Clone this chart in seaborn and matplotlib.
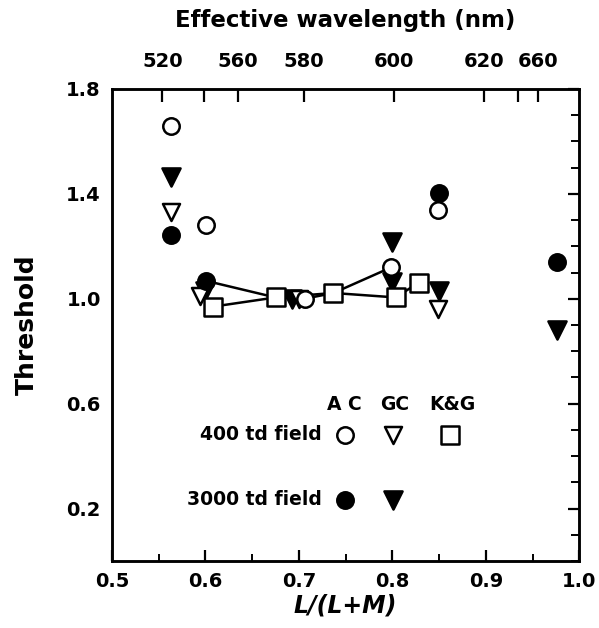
import matplotlib
matplotlib.use("Agg")
import matplotlib.pyplot as plt
import seaborn as sns
import pandas as pd
import numpy as np

# ---- data ----
ac400_x = [0.563, 0.601, 0.706, 0.799, 0.849]
ac400_y = [1.66, 1.28, 1.00, 1.12, 1.34]
ac3000_x = [0.563, 0.601, 0.850, 0.976]
ac3000_y = [1.245, 1.068, 1.405, 1.14]
gc400_x = [0.563, 0.594, 0.700, 0.849]
gc400_y = [1.33, 1.01, 1.00, 0.96]
gc3000_x = [0.563, 0.600, 0.693, 0.800, 0.800, 0.850, 0.976]
gc3000_y = [1.466, 1.03, 1.00, 1.216, 1.064, 1.03, 0.88]
kg400_x = [0.608, 0.675, 0.737, 0.804, 0.828]
kg400_y = [0.97, 1.005, 1.022, 1.005, 1.062]
upper_line_x = [0.601, 0.675, 0.706, 0.737, 0.799]
upper_line_y = [1.068, 1.005, 1.00, 1.022, 1.12]
lower_line_x = [0.608, 0.675, 0.737, 0.804, 0.828]
lower_line_y = [0.97, 1.005, 1.022, 1.005, 1.062]

wl_pos = [0.554, 0.598, 0.635, 0.705, 0.8015, 0.898, 0.934, 0.956]
wl_labels = ["520", "", "560", "580", "600", "620", "", "660"]
y_labels = [0.2, 0.6, 1.0, 1.4, 1.8]

sns.set_style("white")
plt.rcParams['font.family'] = ['DejaVu Sans']
plt.rcParams['font.weight'] = 'bold'
plt.rcParams['text.color'] = 'black'
plt.rcParams['axes.labelcolor'] = 'black'
plt.rcParams['xtick.color'] = 'black'
plt.rcParams['ytick.color'] = 'black'

fig = plt.figure(figsize=(5.99, 6.28), dpi=100)
ax = fig.add_axes([0.187, 0.1067, 0.780, 0.7516])

lw = 1.8
ms = 150
# lines
sns.lineplot(x=upper_line_x, y=upper_line_y, sort=False, color="black", lw=lw, ax=ax, zorder=1)
sns.lineplot(x=lower_line_x, y=lower_line_y, sort=False, color="black", lw=lw, ax=ax, zorder=1)

def sc(x, y, marker, filled, size=ms):
    sns.scatterplot(x=x, y=y, marker=marker, s=size,
                    facecolor="black" if filled else "white",
                    edgecolor="black", linewidth=1.8, ax=ax, zorder=3)

sc(gc3000_x, gc3000_y, "v", True, 170)
sc(gc400_x, gc400_y, "v", False, 150)
sc(ac3000_x, ac3000_y, "o", True, 140)
sc(ac400_x, ac400_y, "o", False, 140)
sc(kg400_x, kg400_y, "s", False, 180)

ax.set_xlim(0.5, 1.0)
ax.set_ylim(0.0, 1.8)

# ticks
ax.set_xticks([0.5, 0.6, 0.7, 0.8, 0.9, 1.0])
ax.set_xticklabels(["0.5", "0.6", "0.7", "0.8", "0.9", "1.0"])
ax.set_xticks(np.arange(0.55, 1.0, 0.1), minor=True)
ax.set_yticks(np.round(np.arange(0.0, 1.81, 0.1), 2), minor=True)
ax.set_yticks(y_labels)
ax.set_yticklabels([f"{v:.1f}" for v in y_labels])
ax.tick_params(axis="both", which="major", direction="in", length=8, width=1.6,
               labelsize=14, top=False, right=True, pad=8)
ax.tick_params(axis="x", which="minor", direction="in", length=5, width=1.4, top=False)
ax.tick_params(axis="y", which="minor", direction="in", length=6, width=1.4, right=True)
for lab in ax.get_xticklabels() + ax.get_yticklabels():
    lab.set_fontweight("bold")
for s in ax.spines.values():
    s.set_linewidth(1.8)
    s.set_color("black")

ax.set_xlabel("L/(L+M)", fontsize=17, fontweight="bold", fontstyle="italic", labelpad=2)
ax.set_ylabel("Threshold", fontsize=18, fontweight="bold", labelpad=20)

# top axis
ax2 = ax.twiny()
ax2.set_xlim(ax.get_xlim())
ax2.set_xticks(wl_pos)
ax2.set_xticklabels(wl_labels)
ax2.tick_params(axis="x", direction="in", length=9, width=1.6, labelsize=14, pad=13)
for lab in ax2.get_xticklabels():
    lab.set_fontweight("bold")
ax2.set_xlabel("Effective wavelength (nm)", fontsize=16.5, fontweight="bold", labelpad=18)
for s in ax2.spines.values():
    s.set_linewidth(1.8)
    s.set_color("black")

# legend-like key
def fx(px):
    return (px - 112) / 467
def fy(py):
    return (561 - py) / 472

t = ax.transAxes
kw = dict(transform=t, va="center", fontsize=13.5, fontweight="bold", color="black")
ax.text(fx(344), fy(405), "A C", ha="center", **kw)
ax.text(fx(395), fy(405), "GC", ha="center", **kw)
ax.text(fx(452), fy(405), "K&G", ha="center", **kw)
ax.text(fx(322), fy(435), "400 td field", ha="right", **kw)
ax.text(fx(322), fy(500), "3000 td field", ha="right", **kw)

key_x = [fx(345), fx(393), fx(450), fx(345), fx(393)]
key_y = [fy(435), fy(435), fy(435), fy(500), fy(500)]
key_m = ["o", "v", "s", "o", "v"]
key_f = [False, False, False, True, True]
key_s = [140, 150, 180, 140, 170]
for kx, ky, km, kf, ks in zip(key_x, key_y, key_m, key_f, key_s):
    ax.scatter([kx], [ky], marker=km, s=ks, transform=t,
               facecolor="black" if kf else "white", edgecolor="black",
               linewidth=1.8, zorder=3, clip_on=False)

fig.savefig("out.png", dpi=100)
